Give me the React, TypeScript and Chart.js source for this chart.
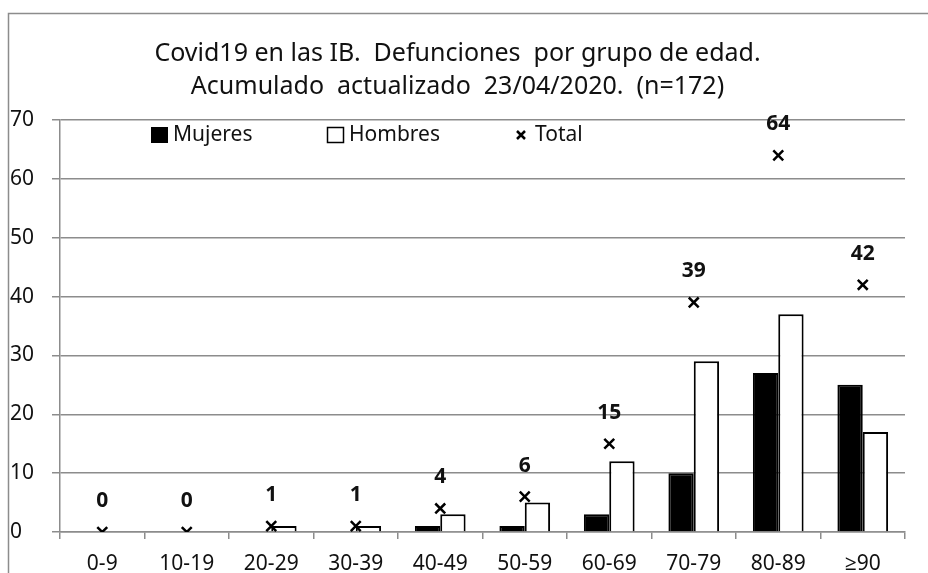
import React, { useEffect, useRef } from "react";
import { Chart, registerables } from "chart.js";

Chart.register(...registerables);

const categories = ["0-9", "10-19", "20-29", "30-39", "40-49", "50-59", "60-69", "70-79", "80-89", "≥90"];
const mujeres = [0, 0, 0, 0, 1, 1, 3, 10, 27, 25];
const hombres = [0, 0, 1, 1, 3, 5, 12, 29, 37, 17];
const total = [0, 0, 1, 1, 4, 6, 15, 39, 64, 42];
const yTicks = [0, 10, 20, 30, 40, 50, 60, 70];
const titleLines = [
  "Covid19 en las IB.  Defunciones  por grupo de edad.",
  "Acumulado  actualizado  23/04/2020.  (n=172)",
];
const legendLabels = ["Mujeres", "Hombres", "Total"];

const FONT = "'Noto Sans', 'Open Sans', sans-serif";
const GRID = "#8c8c8c";

const framePlugin = {
  id: "frame",
  beforeDraw(chart: any) {
    const ctx = chart.ctx;
    ctx.save();
    ctx.fillStyle = "#fff";
    ctx.fillRect(0, 0, chart.width, chart.height);
    ctx.strokeStyle = GRID;
    ctx.lineWidth = 1.5;
    ctx.strokeRect(8.5, 13.5, chart.width + 20, chart.height + 20);
    ctx.restore();
  },
};

const legendPlugin = {
  id: "insideLegend",
  afterDraw(chart: any) {
    const ctx = chart.ctx;
    const a = chart.chartArea;
    const y = a.top + 15;
    ctx.save();
    ctx.font = `21px ${FONT}`;
    ctx.textBaseline = "middle";
    // Mujeres
    let x = a.left + 91;
    ctx.fillStyle = "#000";
    ctx.fillRect(x, y - 8, 17, 16);
    ctx.fillStyle = "#111";
    ctx.fillText(legendLabels[0], x + 22, y);
    // Hombres
    x = a.left + 267;
    ctx.strokeStyle = "#000";
    ctx.lineWidth = 1.5;
    ctx.strokeRect(x + 0.5, y - 7.5, 16, 15);
    ctx.fillText(legendLabels[1], x + 22, y);
    // Total
    x = a.left + 461;
    ctx.lineWidth = 2.5;
    ctx.beginPath();
    ctx.moveTo(x - 4, y - 4);
    ctx.lineTo(x + 4, y + 4);
    ctx.moveTo(x + 4, y - 4);
    ctx.lineTo(x - 4, y + 4);
    ctx.stroke();
    ctx.fillText(legendLabels[2], x + 14, y);
    ctx.restore();
  },
};

const labelPlugin = {
  id: "totalLabels",
  afterDatasetsDraw(chart: any) {
    const ctx = chart.ctx;
    const meta = chart.getDatasetMeta(2);
    ctx.save();
    ctx.font = `bold 21px ${FONT}`;
    ctx.textAlign = "center";
    ctx.textBaseline = "middle";
    ctx.fillStyle = "#111";
    meta.data.forEach((el: any, i: number) => {
      ctx.fillText(String(total[i]), el.x, el.y - 31);
    });
    ctx.restore();
  },
};

export default function App() {
  const ref = useRef<HTMLCanvasElement>(null);
  useEffect(() => {
    if (!ref.current) return;
    const chart = new Chart(ref.current, {
      type: "bar",
      data: {
        labels: categories,
        datasets: [
          {
            label: "Mujeres",
            data: mujeres,
            backgroundColor: "#000",
            borderColor: "#000",
            borderWidth: 2,
            barPercentage: 1,
            categoryPercentage: 0.6,
            order: 2,
          },
          {
            label: "Hombres",
            data: hombres,
            backgroundColor: "#fff",
            borderColor: "#000",
            borderWidth: 2,
            barPercentage: 1,
            categoryPercentage: 0.6,
            order: 2,
          },
          {
            type: "line",
            label: "Total",
            data: total,
            showLine: false,
            pointStyle: "crossRot",
            pointRadius: 7,
            pointBorderWidth: 2.5,
            borderColor: "#000",
            backgroundColor: "#000",
            order: 1,
          } as any,
        ],
      },
      options: {
        animation: false,
        responsive: false,
        layout: { padding: { left: 10, right: 23, top: 0, bottom: 0 } },
        plugins: {
          legend: { display: false },
          tooltip: { enabled: false },
          title: {
            display: true,
            text: titleLines,
            color: "#111",
            font: { family: FONT, size: 25, weight: "normal", lineHeight: 1.32 },
            padding: { top: 37, bottom: 17 },
          },
        },
        scales: {
          x: {
            grid: {
              offset: true,
              drawOnChartArea: false,
              drawTicks: true,
              tickLength: 7,
              color: GRID,
              lineWidth: 1.5,
            },
            border: { color: GRID, width: 1.5 },
            ticks: {
              color: "#111",
              font: { family: FONT, size: 21 },
              padding: 12,
              maxRotation: 0,
              autoSkip: false,
            },
            afterFit(scale: any) {
              scale.height = 41;
            },
          },
          y: {
            min: 0,
            max: 70,
            afterBuildTicks(scale: any) {
              scale.ticks = yTicks.map((v) => ({ value: v }));
            },
            grid: {
              color: GRID,
              lineWidth: 1.5,
              tickLength: 8,
            },
            border: { color: GRID, width: 1.5 },
            ticks: {
              color: "#111",
              font: { family: FONT, size: 21 },
              crossAlign: "far",
            },
            afterFit(scale: any) {
              scale.width = 50;
            },
          },
        },
      },
      plugins: [framePlugin, legendPlugin, labelPlugin],
    });
    return () => chart.destroy();
  }, []);
  return (
    <div style={{ position: "fixed", left: 0, top: 0, width: 928, height: 573 }}>
      <canvas ref={ref} width={928} height={573} style={{ display: "block" }} />
    </div>
  );
}
